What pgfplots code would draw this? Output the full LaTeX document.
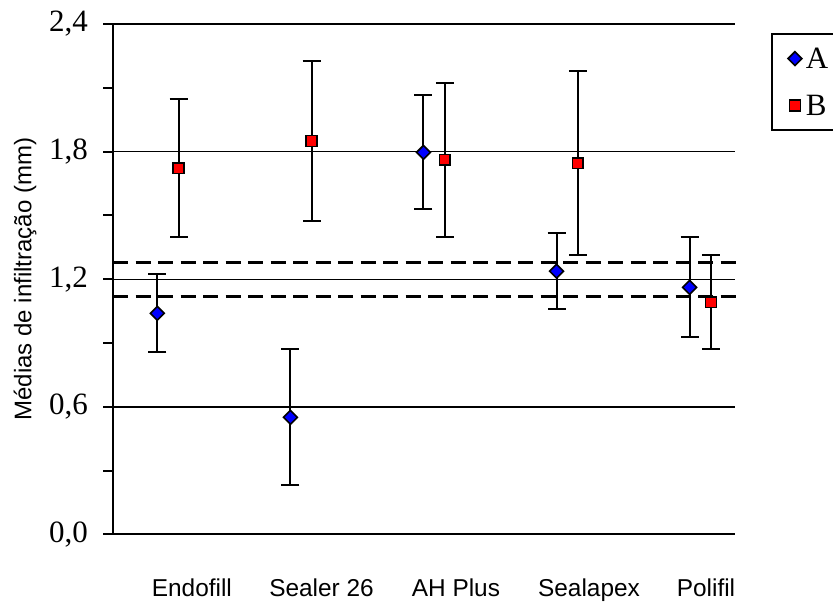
\documentclass[border=0pt]{standalone}
\usepackage{fontspec}
\setmainfont{Liberation Serif}
\setsansfont{Liberation Sans}
\usepackage{pgfplots}
\pgfplotsset{compat=1.18}
\begin{document}
\begin{tikzpicture}
\useasboundingbox (-56.5pt,-34.25pt) rectangle (360pt,267.25pt);
\begin{axis}[
  scale only axis, width=311pt, height=255.2pt,
  xmin=0.587, xmax=5.261, ymin=0, ymax=2.4,
  clip=false,
  axis x line*=bottom, axis y line*=left,
  x axis line style={-, line width=1pt},
  y axis line style={-, line width=1pt},
  ytick={0,0.6,1.2,1.8,2.4},
  minor ytick={0.3,0.9,1.5,2.1},
  tick align=outside,
  major tick length=5pt, minor tick length=5pt,
  every tick/.style={line width=1pt, black},
  ymajorgrids, major grid style={line width=0.7pt, black},
  xtick={1.180,2.154,3.164,4.164,5.043},
  xticklabels={Endofill, Sealer 26, AH Plus, Sealapex, Polifil},
  x tick style={draw=none},
  xticklabel style={font=\sffamily\fontsize{12.2}{14}\selectfont, anchor=base, yshift=-26pt},
  yticklabel style={font=\fontsize{15.5}{18}\selectfont, xshift=-4pt},
  /pgf/number format/use comma,
  /pgf/number format/fixed,
  /pgf/number format/fixed zerofill,
  /pgf/number format/precision=1,
  /pgf/number format/assume math mode=true,
  ylabel={Médias de infiltração (mm)},
  ylabel style={font=\sffamily\fontsize{12}{14}\selectfont, at={(axis description cs:-0.1415,0.5)}, anchor=center},
  legend style={at={(rel axis cs:1.0579,0.9826)}, anchor=north west, draw=black, line width=1pt,
    font=\fontsize{15.5}{18}\selectfont, row sep=9.3pt, inner xsep=8pt, inner ysep=5.2pt,
    nodes={inner sep=2pt, text depth=0pt}},
  legend cell align=left,
]
\addplot[black, line width=1.5pt, dash pattern=on 7.5pt off 3.75pt, forget plot]
  coordinates {(0.587,1.28) (5.313,1.28)};
\addplot[black, line width=1.5pt, dash pattern=on 7.5pt off 3.75pt, forget plot]
  coordinates {(0.587,1.12) (5.313,1.12)};

\addplot[only marks, mark=square*, mark size=2.45pt,
  mark options={rotate=45, fill=blue, draw=black, line width=0.8pt},
  legend image code/.code={\draw[mark repeat=2,mark phase=2] plot coordinates {(0pt,0pt) (4pt,0pt) (9pt,0pt)};},
  error bars/.cd, y dir=both, y explicit,
  error bar style={line width=1pt, black},
  error mark options={rotate=90, mark size=4.5pt, line width=1pt, black}]
  coordinates {
    (0.92,1.040) +- (0,0.184)
    (1.92,0.551) +- (0,0.320)
    (2.92,1.797) +- (0,0.268)
    (3.92,1.238) +- (0,0.179)
    (4.92,1.162) +- (0,0.235)
  };
\addlegendentry{A}

\addplot[only marks, mark=square*, mark size=2.7pt,
  mark options={fill=red, draw=black, line width=0.8pt},
  legend image code/.code={\draw[mark repeat=2,mark phase=2] plot coordinates {(0pt,0pt) (4pt,0pt) (9pt,0pt)};},
  error bars/.cd, y dir=both, y explicit,
  error bar style={line width=1pt, black},
  error mark options={rotate=90, mark size=4.5pt, line width=1pt, black}]
  coordinates {
    (1.08,1.722) +- (0,0.325)
    (2.08,1.850) +- (0,0.377)
    (3.08,1.762) +- (0,0.362)
    (4.08,1.746) +- (0,0.433)
    (5.08,1.092) +- (0,0.221)
  };
\addlegendentry{B}
\end{axis}
\end{tikzpicture}
\end{document}
